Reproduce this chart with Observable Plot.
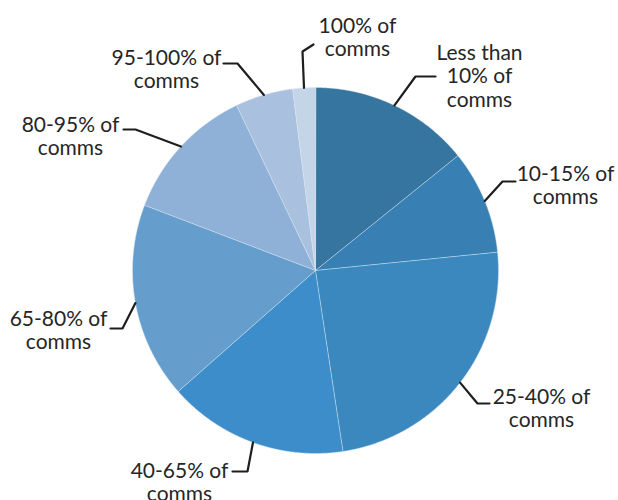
<!DOCTYPE html>
<html>
<head>
<meta charset="utf-8">
<script src="https://cdn.jsdelivr.net/npm/d3@7"></script>
<script src="https://cdn.jsdelivr.net/npm/@observablehq/plot@0.6"></script>
<style>
  html, body { margin: 0; padding: 0; background: #fff; }
  #chart svg { display: block; }
</style>
</head>
<body>
<div id="chart"></div>
<script>
// ---- Data ----
const categories = [
  "Less than 10% of comms", "10-15% of comms", "25-40% of comms", "40-65% of comms",
  "65-80% of comms", "80-95% of comms", "95-100% of comms", "100% of comms"
];
const values = [14.2, 9.2, 24.2, 15.9, 17.3, 12.1, 5.1, 2.0];
const labelTexts = [
  "Less than\n10% of\ncomms", "10-15% of\ncomms", "25-40% of\ncomms", "40-65% of\ncomms",
  "65-80% of\ncomms", "80-95% of\ncomms", "95-100% of\ncomms", "100% of\ncomms"
];
const colors = ["#3575a0", "#3880b4", "#3b88bf", "#3c8dc9", "#659ecd", "#8fb1d7", "#a9c0df", "#c5d5e8"];

// ---- Layout (pixels) ----
const W = 618, H = 500;
const cx = 315, cy = 270, R = 183;
// text center x, cap-top y, leader elbow and end points
const labelLayout = [
  {tx: 479, ty: 42,  ex: 415, ey: 76,  hx: 435, hy: 76},
  {tx: 565, ty: 163, ex: 502, ey: 181, hx: 515, hy: 181},
  {tx: 541, ty: 386, ex: 477, ey: 403, hx: 489, hy: 403},
  {tx: 179, ty: 460, ex: 247, ey: 471, hx: 232, hy: 471},
  {tx: 58,  ty: 308, ex: 122, ey: 328, hx: 110, hy: 328},
  {tx: 70,  ty: 114, ex: 135, ey: 129, hx: 123, hy: 129},
  {tx: 166, ty: 47,  ex: 237, ey: 63,  hx: 223, hy: 63},
  {tx: 357, ty: 15,  ex: 302, ey: 51,  hx: 313, hy: 44}
];

// ---- Build slices from values ----
const total = d3.sum(values);
const cum = d3.cumsum(values);
const polar = (deg, r) => ({x: cx + r * Math.sin(deg * Math.PI / 180), y: cy - r * Math.cos(deg * Math.PI / 180)});
const slicePts = [];
const leaderPts = [];
const labelRows = [];
categories.forEach((cat, i) => {
  const a0 = (i === 0 ? 0 : cum[i - 1]) / total * 360;
  const a1 = cum[i] / total * 360;
  slicePts.push({cat, x: cx, y: cy});
  const n = Math.max(2, Math.ceil((a1 - a0) / 0.25));
  for (let k = 0; k <= n; k++) {
    const p = polar(a0 + (a1 - a0) * k / n, R);
    slicePts.push({cat, x: p.x, y: p.y});
  }
  const mid = (a0 + a1) / 2;
  const s = polar(mid, R);
  const L = labelLayout[i];
  leaderPts.push({cat, x: s.x, y: s.y}, {cat, x: L.ex, y: L.ey}, {cat, x: L.hx, y: L.hy});
  labelRows.push({cat, x: L.tx, y: L.ty, text: labelTexts[i]});
});

const chart = Plot.plot({
  width: W,
  height: H,
  margin: 0,
  x: {domain: [0, W], range: [0, W], axis: null},
  y: {domain: [0, H], range: [0, H], axis: null},
  color: {domain: categories, range: colors},
  marks: [
    Plot.line(slicePts, {x: "x", y: "y", z: "cat", fill: "cat", stroke: "#dce8f3", strokeWidth: 0.6, strokeOpacity: 0.8, curve: "linear-closed"}),
    Plot.line(leaderPts, {x: "x", y: "y", z: "cat", stroke: "#1e1e1e", strokeWidth: 2.2, strokeLinejoin: "miter"}),
    Plot.text(labelRows, {x: "x", y: "y", text: "text", lineAnchor: "top", textAnchor: "middle",
      fontSize: 21, fontFamily: "Lato, 'Open Sans', sans-serif", fill: "#262626", lineHeight: 1.14})
  ]
});
document.getElementById("chart").appendChild(chart);
</script>
</body>
</html>
